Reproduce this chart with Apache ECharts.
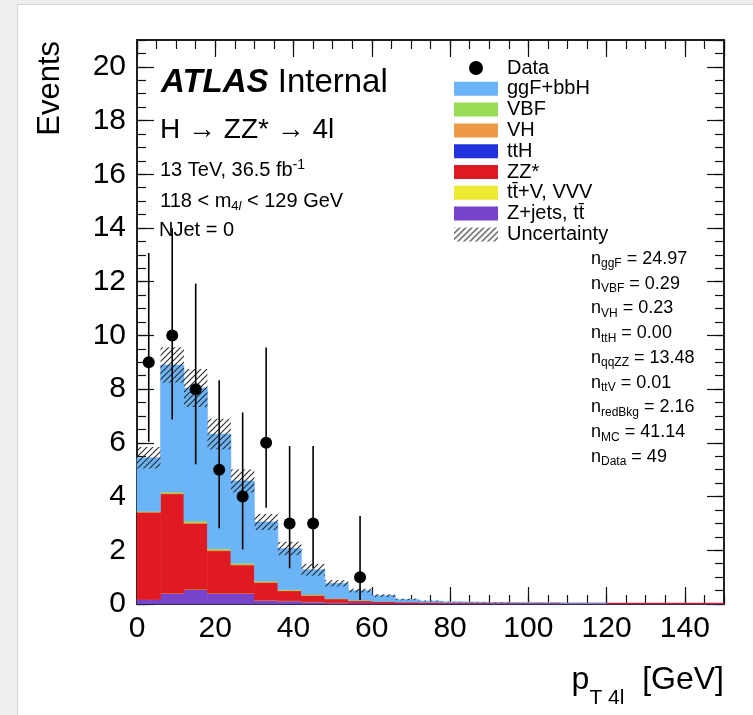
<!DOCTYPE html>
<html>
<head>
<meta charset="utf-8">
<script src="https://cdn.jsdelivr.net/npm/echarts@6/dist/echarts.min.js"></script>
<style>
body{margin:0;background:#efefef;overflow:hidden;}
#page{position:absolute;left:17px;top:4px;width:736px;height:711px;background:#fff;border-left:1px solid #d4d4d4;border-top:1px solid #d4d4d4;}
#chart{position:absolute;left:0;top:0;width:753px;height:715px;}
</style>
</head>
<body>
<div id="page"></div>
<div id="chart"></div>
<script>
var FONT = '"Liberation Sans", Arial, Helvetica, sans-serif';

// pT4l bins, 6 GeV wide
var binEdges = [0,6,12,18,24,30,36,42,48,54,60,66,72,78,84,90,96,102,108,114,120,126,132,138,144,150];

// stacked MC, bottom to top
var zjets = [0.17,0.40,0.55,0.40,0.40,0.14,0.12,0.08,0.05,0.04,0.03,0.02,0.02,0.02,0.02,0.02,0.02,0.02,0.02,0.02,0.02,0.02,0.02,0.02,0.02];
var ttv   = [0,0.001,0.001,0.002,0.001,0.001,0.001,0.001,0.001,0,0,0,0,0,0,0,0,0,0,0,0,0,0,0,0];
var zz    = [3.25,3.70,2.45,1.58,1.05,0.66,0.37,0.24,0.14,0.08,0.06,0.05,0.04,0.03,0.03,0.02,0.02,0.02,0.01,0.01,0.01,0.01,0.01,0.01,0.01];
var tth   = [0,0,0,0,0,0,0,0,0,0,0,0,0,0,0,0,0,0,0,0,0,0,0,0,0];
var vh    = [0.015,0.03,0.04,0.035,0.03,0.025,0.02,0.015,0.01,0.01,0,0,0,0,0,0,0,0,0,0,0,0,0,0,0];
var vbf   = [0.02,0.04,0.05,0.04,0.04,0.03,0.025,0.02,0.01,0.01,0.005,0,0,0,0,0,0,0,0,0,0,0,0,0,0];
var ggf   = [1.99,4.73,4.95,4.27,3.06,2.20,1.53,0.92,0.56,0.36,0.22,0.10,0.05,0.03,0.02,0.015,0.01,0.01,0.005,0.005,0,0,0,0,0];
var mcUnc = [0.40,0.66,0.71,0.57,0.43,0.30,0.25,0.22,0.12,0.07,0.05,0.03,0.02,0.01,0.01,0.01,0,0,0,0,0,0,0,0,0];

// data with asymmetric errors
var dataCounts = [9,10,8,5,4,6,3,3,0,1,0,0,0,0,0,0,0,0,0,0,0,0,0,0,0];
var dataLow  = [6.04,6.87,5.2,2.82,2.03,3.58,1.33,1.33,null,0.15];
var dataHigh = [13.07,14.0,11.93,8.33,7.13,9.55,5.88,5.88,null,3.28];

var stackNames  = ['Z+jets, tt\u0304', 'tt\u0304+V, VVV', 'ZZ*', 'ttH', 'VH', 'VBF', 'ggF+bbH'];
var stackColors = ['#7744cc', '#eeea33', '#e01a22', '#2233dd', '#ee9944', '#99dd55', '#6cb4f8'];
var stackValues = [zjets, ttv, zz, tth, vh, vbf, ggf];

var nLabels = ['ggF','VBF','VH','ttH','qqZZ','ttV','redBkg','MC','Data'];
var nValues = ['24.97','0.29','0.23','0.00','13.48','0.01','2.16','41.14','49'];

// hatch pattern for the uncertainty band
var hc = document.createElement('canvas');
hc.width = 6; hc.height = 6;
var hctx = hc.getContext('2d');
hctx.strokeStyle = '#2a2a2a';
hctx.lineWidth = 1.1;
hctx.beginPath();
hctx.moveTo(0,6); hctx.lineTo(6,0);
hctx.moveTo(-1,1); hctx.lineTo(1,-1);
hctx.moveTo(5,7); hctx.lineTo(7,5);
hctx.stroke();
var hatch = {image: hc, repeat: 'repeat'};

function rectItem(params, api) {
    var p0 = api.coord([api.value(0), api.value(3)]);
    var p1 = api.coord([api.value(1), api.value(2)]);
    var st = api.style();
    return {
        type: 'rect',
        shape: {x: p0[0], y: p0[1], width: p1[0]-p0[0], height: p1[1]-p0[1]},
        style: {fill: st.fill, stroke: st.fill, lineWidth: 0.6}
    };
}

var series = [];
var base = [];
for (var j = 0; j < binEdges.length-1; j++) base.push(0);
for (var k = 0; k < stackValues.length; k++) {
    var rows = [];
    for (var j = 0; j < base.length; j++) {
        var v = stackValues[k][j];
        if (v > 0) rows.push([binEdges[j], binEdges[j+1], base[j], base[j]+v]);
        base[j] += v;
    }
    series.push({
        name: stackNames[k],
        type: 'custom',
        renderItem: rectItem,
        itemStyle: {color: stackColors[k]},
        encode: {x: [0,1], y: [2,3]},
        data: rows,
        z: 2,
        silent: true
    });
}

var uncRows = [];
for (var j = 0; j < base.length; j++) {
    if (mcUnc[j] > 0) uncRows.push([binEdges[j], binEdges[j+1], base[j]-mcUnc[j], base[j]+mcUnc[j]]);
}
series.push({
    name: 'Uncertainty',
    type: 'custom',
    itemStyle: {color: hatch},
    renderItem: function(params, api) {
        var p0 = api.coord([api.value(0), api.value(3)]);
        var p1 = api.coord([api.value(1), api.value(2)]);
        return {type: 'rect', shape: {x: p0[0], y: p0[1], width: p1[0]-p0[0], height: p1[1]-p0[1]}, style: {fill: hatch}};
    },
    encode: {x: [0,1], y: [2,3]},
    data: uncRows,
    z: 3,
    silent: true
});

var pts = [], errs = [];
for (var j = 0; j < dataCounts.length; j++) {
    if (dataCounts[j] > 0) {
        var xc = (binEdges[j] + binEdges[j+1]) / 2;
        pts.push([xc, dataCounts[j]]);
        errs.push([xc, dataLow[j], dataHigh[j]]);
    }
}
series.push({
    type: 'custom',
    renderItem: function(params, api) {
        var a = api.coord([api.value(0), api.value(1)]);
        var b = api.coord([api.value(0), api.value(2)]);
        return {type: 'line', shape: {x1: a[0], y1: a[1], x2: b[0], y2: b[1]}, style: {stroke: '#000', lineWidth: 1.6}};
    },
    encode: {x: 0, y: [1,2]},
    data: errs,
    z: 4,
    silent: true
});
series.push({
    name: 'Data',
    type: 'scatter',
    symbol: 'circle',
    symbolSize: 12,
    itemStyle: {color: '#000', opacity: 1},
    data: pts,
    z: 5,
    silent: true
});

function xAx(pos, interval, len, labels) {
    return {
        type: 'value', min: 0, max: 150, interval: interval, position: pos,
        axisLine: {show: true, onZero: false, lineStyle: {color: '#111', width: 1.5}},
        axisTick: {show: true, inside: true, length: len, lineStyle: {color: '#111', width: 1.2}},
        axisLabel: {show: labels, fontSize: 30, color: '#000', fontFamily: FONT, margin: 10, showMaxLabel: false},
        splitLine: {show: false}
    };
}
function yAx(pos, interval, len, labels) {
    return {
        type: 'value', min: 0, max: 21, interval: interval, position: pos,
        axisLine: {show: true, onZero: false, lineStyle: {color: '#111', width: 1.5}},
        axisTick: {show: true, inside: true, length: len, lineStyle: {color: '#111', width: 1.2}},
        axisLabel: {show: labels, fontSize: 30, color: '#000', fontFamily: FONT, margin: 11, showMaxLabel: false},
        splitLine: {show: false}
    };
}

var graphics = [];
graphics.push({type: 'text', x: 66, y: 41, rotation: Math.PI/2,
    style: {text: 'Events', font: '31px ' + FONT, fill: '#000', align: 'right', verticalAlign: 'bottom'}});
graphics.push({type: 'text', x: 724, y: 680,
    style: {text: '{p|p}{s|T 4l}{p|  [GeV]}', align: 'right', verticalAlign: 'middle',
        rich: {p: {fontSize: 32, fontFamily: FONT, lineHeight: 34, fill: '#000'},
               s: {fontSize: 21, fontFamily: FONT, lineHeight: 21, verticalAlign: 'top', padding: [25,0,0,0], fill: '#000'}}}});
graphics.push({type: 'text', x: 161, y: 83,
    style: {text: '{a|ATLAS}{b| Internal}', verticalAlign: 'middle',
        rich: {a: {fontSize: 33, fontFamily: FONT, fontWeight: 'bold', fontStyle: 'italic', fill: '#000', lineHeight: 36},
               b: {fontSize: 33, fontFamily: FONT, fill: '#000', lineHeight: 36}}}});
graphics.push({type: 'text', x: 160, y: 130,
    style: {text: 'H \u2192 ZZ* \u2192 4l', font: '28px ' + FONT, fill: '#000', verticalAlign: 'middle'}});
var small = {fontSize: 20, fontFamily: FONT, lineHeight: 24, fill: '#000'};
var sup = {fontSize: 14, fontFamily: FONT, lineHeight: 14, verticalAlign: 'top', fill: '#000'};
var sub = {fontSize: 13, fontFamily: FONT, lineHeight: 12, verticalAlign: 'bottom', fill: '#000'};
var subi = {fontSize: 13, fontFamily: FONT, fontStyle: 'italic', lineHeight: 12, verticalAlign: 'bottom', fill: '#000'};
graphics.push({type: 'text', x: 160, y: 170,
    style: {text: '{m|13 TeV, 36.5 fb}{u|-1}', verticalAlign: 'middle', rich: {m: small, u: sup}}});
graphics.push({type: 'text', x: 160, y: 201,
    style: {text: '{m|118 < m}{d|4}{i|l}{m| < 129 GeV}', verticalAlign: 'middle', rich: {m: small, d: sub, i: subi}}});
graphics.push({type: 'text', x: 159, y: 230,
    style: {text: '{m|NJet = 0}', verticalAlign: 'middle', rich: {m: small}}});

var nMain = {fontSize: 18, fontFamily: FONT, lineHeight: 22, fill: '#000'};
var nSub = {fontSize: 12, fontFamily: FONT, lineHeight: 12, verticalAlign: 'bottom', fill: '#000'};
for (var i = 0; i < nLabels.length; i++) {
    graphics.push({type: 'text', x: 591, y: 259 + 24.75*i,
        style: {text: '{m|n}{s|' + nLabels[i] + '}{m| = ' + nValues[i] + '}', verticalAlign: 'middle',
            rich: {m: nMain, s: nSub}}});
}

var legendItems = [{name: 'Data', icon: 'circle'}, 'ggF+bbH', 'VBF', 'VH', 'ttH', 'ZZ*', 'tt\u0304+V, VVV', 'Z+jets, tt\u0304', 'Uncertainty'];

var chart = echarts.init(document.getElementById('chart'), null, {renderer: 'canvas'});
chart.setOption({
    backgroundColor: 'transparent',
    animation: false,
    grid: {left: 137, right: 29, top: 40, bottom: 111, containLabel: false},
    xAxis: [xAx('bottom', 20, 17, true), xAx('bottom', 5, 9, false), xAx('top', 20, 17, false), xAx('top', 5, 9, false)],
    yAxis: [yAx('left', 2, 17, true), yAx('left', 0.5, 9, false), yAx('right', 2, 17, false), yAx('right', 0.5, 9, false)],
    legend: {
        data: legendItems, orient: 'vertical', left: 454, top: 58, padding: 0,
        itemWidth: 44, itemHeight: 14, itemGap: 0.8, icon: 'rect', selectedMode: false,
        textStyle: {fontSize: 20, fontFamily: FONT, color: '#000', padding: [0,0,0,4]}
    },
    graphic: graphics,
    series: series
});
</script>
</body>
</html>
